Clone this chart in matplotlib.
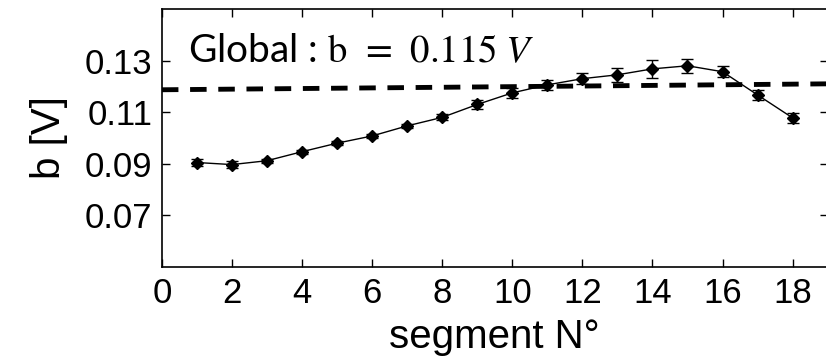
import matplotlib.pyplot as plt

segments = list(range(1, 19))
b_values = [0.0905, 0.0897, 0.0912, 0.0947, 0.0980, 0.1008, 0.1047, 0.1080, 0.1130,
            0.1175, 0.1206, 0.1230, 0.1245, 0.1268, 0.1280, 0.1257, 0.1167, 0.1078]
b_errors = [0.0012, 0.0015, 0.0008, 0.0008, 0.0008, 0.0008, 0.0008, 0.0012, 0.0016,
            0.0018, 0.0018, 0.0022, 0.0026, 0.0034, 0.0028, 0.0022, 0.0018, 0.0018]
global_x = [0, 19]
global_y = [0.1187, 0.1210]
x_ticks = list(range(0, 19, 2))
y_ticks = [0.07, 0.09, 0.11, 0.13]

plt.rcParams['font.family'] = ['Liberation Sans', 'DejaVu Sans']
plt.rcParams['mathtext.fontset'] = 'stix'

fig = plt.figure(figsize=(8.26, 3.61), dpi=100)
ax = fig.add_axes([0.196, 0.2604, 0.806, 0.7146])

ax.errorbar(segments, b_values, yerr=b_errors, color='black', lw=1.0,
            marker='D', ms=6.5, capsize=4, elinewidth=1.0, capthick=1.0)
ax.plot(global_x, global_y, color='black', lw=3.5, dashes=(3.4, 2.4))

ax.set_xlim(0, 19)
ax.set_ylim(0.05, 0.15)
ax.set_xticks(x_ticks)
ax.set_yticks(y_ticks)
ax.set_yticklabels([f"{v:.2f}" for v in y_ticks])
ax.tick_params(direction='in', length=6, width=1, labelsize=25, top=True, right=True, pad=7)
for s in ax.spines.values():
    s.set_linewidth(1.2)

ax.set_xlabel("segment N°", fontsize=29, labelpad=6)
ax.set_ylabel("b [V]", fontsize=29, labelpad=12)

ax.text(0.74, 0.1292, "Global : $\\mathrm{b}\\;\\,=\\;\\,0.115\\;V$", fontsize=28,
        family=['Lato', 'DejaVu Sans'], va='baseline', ha='left')

fig.savefig("out.png", dpi=100)
